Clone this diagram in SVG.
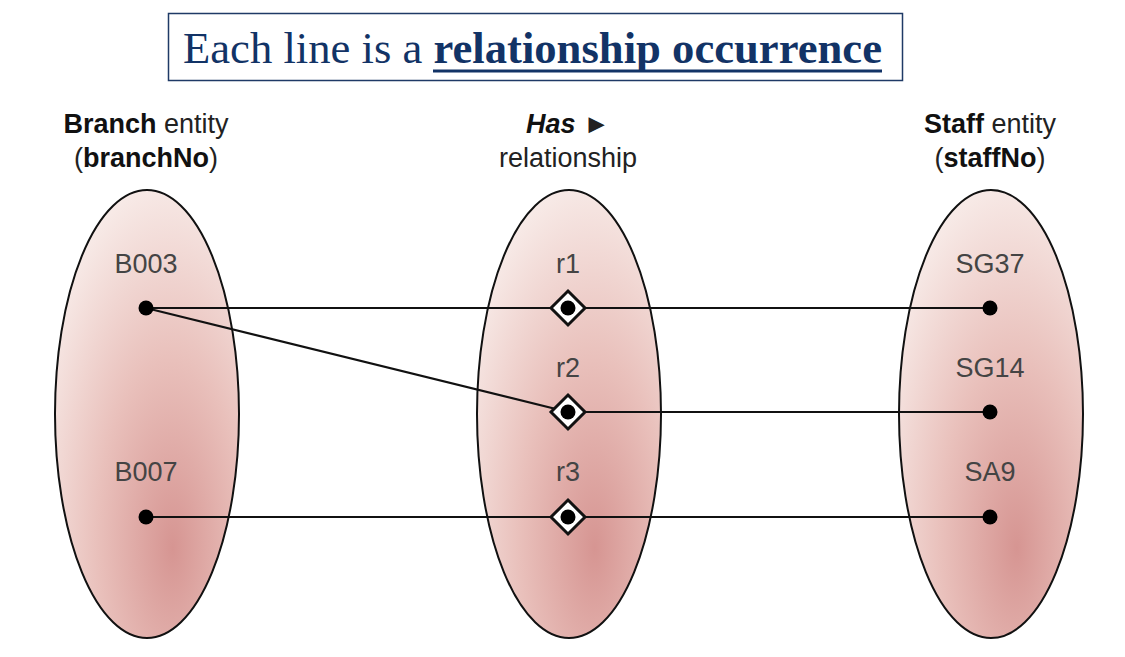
<svg xmlns="http://www.w3.org/2000/svg" width="1125" height="657" viewBox="0 0 1125 657">
<defs>
<radialGradient id="pink" cx="0.62" cy="0.76" r="0.8" fx="0.64" fy="0.8">
<stop offset="0" stop-color="#d69592"/>
<stop offset="0.5" stop-color="#e9c0bb"/>
<stop offset="1" stop-color="#f8ece9"/>
</radialGradient>
<g id="dia">
<polygon points="0,-17 17,0 0,17 -17,0" fill="#ffffff" stroke="#111" stroke-width="3"/>
<circle r="7.5" fill="#000"/>
</g>
</defs>
<style>
.ell{fill:url(#pink);stroke:#111;stroke-width:2}
.hd{font-family:"Liberation Sans",Arial,sans-serif;font-size:27px;fill:#222;text-anchor:middle}
.b{font-weight:bold;fill:#111}
.lb{font-family:"Liberation Sans",Arial,sans-serif;font-size:27px;fill:#444;text-anchor:middle}
.ln{stroke:#111;stroke-width:2.2;fill:none}
.dot{fill:#000}
</style>
<rect width="1125" height="657" fill="#fff"/>
<g id="title">
<rect x="168.5" y="13.5" width="734" height="67" fill="#fff" stroke="#1f3a66" stroke-width="1.5"/>
<text x="183" y="63" font-family="Liberation Serif,'Times New Roman',serif" font-size="44" fill="#123366" textLength="699" lengthAdjust="spacingAndGlyphs">Each line is a <tspan font-weight="bold">relationship occurrence</tspan></text>
<line x1="433" y1="71" x2="882" y2="71" stroke="#123366" stroke-width="3"/>
</g>
<g id="branch">
<text class="hd" x="146" y="133"><tspan class="b">Branch</tspan> entity</text>
<text class="hd" x="146" y="167">(<tspan class="b">branchNo</tspan>)</text>
<ellipse class="ell" cx="147" cy="414" rx="92" ry="224"/>
<text class="lb" x="146" y="273">B003</text>
<text class="lb" x="146" y="481">B007</text>
</g>
<g id="has">
<text class="hd" x="568" y="133"><tspan font-style="italic" class="b">Has</tspan> ►</text>
<text class="hd" x="568" y="167">relationship</text>
<ellipse class="ell" cx="569" cy="414" rx="92" ry="224"/>
<text class="lb" x="568" y="273">r1</text>
<text class="lb" x="568" y="377">r2</text>
<text class="lb" x="568" y="481">r3</text>
</g>
<g id="staff">
<text class="hd" x="990" y="133"><tspan class="b">Staff</tspan> entity</text>
<text class="hd" x="990" y="167">(<tspan class="b">staffNo</tspan>)</text>
<ellipse class="ell" cx="991" cy="414" rx="92" ry="224"/>
<text class="lb" x="990" y="273">SG37</text>
<text class="lb" x="990" y="377">SG14</text>
<text class="lb" x="990" y="481">SA9</text>
</g>
<g id="connectors">
<line class="ln" x1="146" y1="308" x2="990" y2="308"/>
<line class="ln" x1="146" y1="308" x2="568" y2="412"/>
<line class="ln" x1="568" y1="412" x2="990" y2="412"/>
<line class="ln" x1="146" y1="517" x2="990" y2="517"/>
</g>
<g id="points">
<circle class="dot" cx="146" cy="308" r="7.5"/>
<circle class="dot" cx="146" cy="517" r="7.5"/>
<circle class="dot" cx="990" cy="308" r="7.5"/>
<circle class="dot" cx="990" cy="412" r="7.5"/>
<circle class="dot" cx="990" cy="517" r="7.5"/>
<use href="#dia" x="568" y="308"/>
<use href="#dia" x="568" y="412"/>
<use href="#dia" x="568" y="517"/>
</g>
</svg>
